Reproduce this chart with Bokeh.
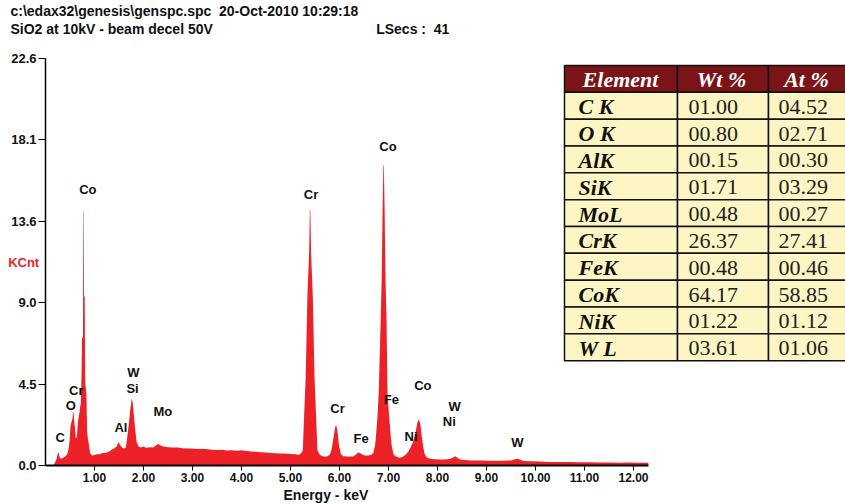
from bokeh.plotting import figure
from bokeh.models import Range1d, FixedTicker, PrintfTickFormatter, Title
from bokeh.core.properties import value
from bokeh.embed import file_html
from bokeh.resources import INLINE

# ---------------- data ----------------
energy_kev = [0.16, 0.19, 0.22, 0.25, 0.27, 0.29, 0.31, 0.35, 0.40, 0.44, 0.47, 0.49, 0.51, 0.53, 0.55, 0.565,
              0.58, 0.60, 0.62, 0.64, 0.66, 0.69, 0.71, 0.72, 0.735, 0.745, 0.765, 0.772, 0.780, 0.787, 0.80,
              0.81, 0.835, 0.85, 0.86, 0.89, 0.91, 0.95, 1.00, 1.05, 1.10, 1.15, 1.20, 1.25, 1.30, 1.35, 1.40,
              1.45, 1.49, 1.52, 1.56, 1.60, 1.64, 1.67, 1.70, 1.73, 1.76, 1.78, 1.80, 1.83, 1.86, 1.90, 1.95,
              2.00, 2.05, 2.10, 2.15, 2.20, 2.26, 2.30, 2.34, 2.40, 2.50, 2.60, 2.70, 2.80, 2.90, 3.00, 3.10,
              3.20, 3.30, 3.40, 3.50, 3.60, 3.70, 3.80, 3.90, 4.00, 4.10, 4.20, 4.30, 4.40, 4.50, 4.60, 4.70,
              4.80, 4.90, 5.00, 5.10, 5.18, 5.22, 5.25, 5.28, 5.31, 5.345, 5.38, 5.395, 5.405, 5.42, 5.455,
              5.49, 5.52, 5.55, 5.60, 5.65, 5.70, 5.75, 5.80, 5.84, 5.88, 5.91, 5.93, 5.96, 5.99, 6.03, 6.08,
              6.15, 6.20, 6.28, 6.33, 6.38, 6.42, 6.47, 6.52, 6.58, 6.64, 6.69, 6.73, 6.77, 6.80, 6.84, 6.86,
              6.88, 6.895, 6.905, 6.92, 6.94, 6.96, 6.98, 7.02, 7.06, 7.10, 7.15, 7.20, 7.25, 7.30, 7.35, 7.40,
              7.45, 7.50, 7.55, 7.59, 7.62, 7.65, 7.69, 7.73, 7.78, 7.85, 7.95, 8.05, 8.15, 8.25, 8.32, 8.36,
              8.40, 8.46, 8.55, 8.70, 8.90, 9.10, 9.30, 9.50, 9.58, 9.63, 9.68, 9.75, 9.90, 10.10, 10.30,
              10.50, 10.70, 10.90, 11.10, 11.30, 11.50, 11.70, 11.90, 12.10, 12.30]
counts_kcnt = [0.0, 0.15, 0.3, 0.65, 0.74, 0.45, 0.37, 0.42, 0.5, 0.6, 0.9, 1.3, 2.2, 2.4, 2.6, 3.05,
               2.7, 2.1, 1.5, 1.6, 2.4, 2.9, 3.3, 3.4, 5.0, 7.1, 7.1, 14.1, 14.1, 9.4, 9.4,
               4.6, 4.0, 1.8, 1.6, 1.1, 0.7, 0.55, 0.58, 0.62, 0.62, 0.68, 0.7, 0.72, 0.78, 0.88, 0.95,
               1.05, 1.3, 1.15, 1.0, 0.95, 1.0, 1.6, 2.3, 3.1, 3.73, 3.5, 2.9, 2.0, 1.3, 1.05, 1.0,
               1.05, 0.98, 1.0, 1.02, 1.0, 1.12, 1.2, 1.12, 1.05, 1.02, 1.0, 1.0, 0.96, 0.95, 0.94, 0.92,
               0.93, 0.9, 0.88, 0.86, 0.87, 0.83, 0.84, 0.82, 0.84, 0.8, 0.78, 0.76, 0.74, 0.72, 0.7, 0.68,
               0.67, 0.66, 0.64, 0.62, 0.6, 0.7, 0.83, 2.9, 4.9, 9.4, 11.8, 14.17, 14.17, 11.8, 9.4,
               4.9, 2.9, 0.83, 0.6, 0.52, 0.5, 0.5, 0.6, 0.9, 1.6, 2.1, 2.27, 1.9, 1.1, 0.62, 0.52,
               0.5, 0.5, 0.5, 0.6, 0.72, 0.7, 0.6, 0.55, 0.55, 0.58, 0.7, 1.2, 2.5, 4.0, 8.0, 10.25,
               14.3, 16.68, 16.68, 14.3, 10.25, 8.0, 4.0, 2.5, 1.2, 0.62, 0.5, 0.45, 0.45, 0.5, 0.6, 0.75,
               1.0, 1.3, 1.8, 2.4, 2.55, 2.3, 1.4, 0.7, 0.45, 0.38, 0.35, 0.33, 0.33, 0.36, 0.45, 0.52,
               0.45, 0.33, 0.3, 0.28, 0.28, 0.27, 0.26, 0.28, 0.35, 0.38, 0.33, 0.25, 0.23, 0.22, 0.2,
               0.2, 0.19, 0.18, 0.18, 0.17, 0.17, 0.15, 0.16, 0.15, 0.15]

x_ticks = [1, 2, 3, 4, 5, 6, 7, 8, 9, 10, 11, 12]
y_ticks = [0.0, 4.52, 9.04, 13.56, 18.08, 22.6]

peak_names = ["Co", "C", "O", "Cr", "Al", "W", "Si", "Mo", "Cr", "Co", "Cr", "Fe", "Fe", "Co", "Ni", "W", "Ni", "W"]
peak_label_kev = [0.865, 0.30, 0.518, 0.627, 1.539, 1.796, 1.776, 2.396, 5.42, 6.99, 5.96, 6.44, 7.06, 7.70, 7.46, 8.35, 8.24, 9.63]
peak_label_kcnt = [15.33, 1.53, 3.32, 4.16, 2.12, 5.17, 4.30, 3.01, 15.05, 17.69, 3.14, 1.48, 3.64, 4.43, 1.62, 3.27, 2.45, 1.29]

table_header = ["Element", "Wt %", "At %"]
elements = ["C K", "O K", "AlK", "SiK", "MoL", "CrK", "FeK", "CoK", "NiK", "W L"]
wt_pct = ["01.00", "00.80", "00.15", "01.71", "00.48", "26.37", "00.48", "64.17", "01.22", "03.61"]
at_pct = ["04.52", "02.71", "00.30", "03.29", "00.27", "27.41", "00.46", "58.85", "01.12", "01.06"]

header_line1 = "c:\\edax32\\genesis\\genspc.spc\u00a0\u00a020-Oct-2010 10:29:18"
header_line2 = "SiO2 at 10kV - beam decel 50V"
lsecs_text = "LSecs :\u00a0\u00a041"
y_label = "KCnt"
x_label = "Energy - keV"

# ---------------- figure ----------------
SANS = "Liberation Sans"
SERIF = "Liberation Serif"
RED = "#ec2228"
W, H = 845, 504
FRAME_L, FRAME_T, FRAME_B = 45, 57, 465

p = figure(width=W, height=H, output_backend="svg", toolbar_location=None,
           x_range=Range1d(0, (W - FRAME_L) / 49.0), y_range=Range1d(0, 22.6),
           min_border_left=FRAME_L, min_border_right=0, min_border_top=FRAME_T,
           min_border_bottom=H - FRAME_B)
p.outline_line_color = None
p.xgrid.visible = False
p.ygrid.visible = False
p.background_fill_color = "white"

# pixel helper ranges (screen coordinates of the page) for the table
p.extra_x_ranges = {"px": Range1d(FRAME_L, W)}
p.extra_y_ranges = {"py": Range1d(FRAME_B, FRAME_T)}

# spectrum
p.varea(x=energy_kev, y1=0, y2=counts_kcnt, fill_color=RED)

# axes
xa = p.xaxis[0]
xa.ticker = FixedTicker(ticks=x_ticks)
xa.formatter = PrintfTickFormatter(format="%.2f")
xa.bounds = (0, 12.3)
xa.axis_line_width = 2
xa.major_tick_out = 5
xa.major_tick_in = 0
xa.minor_tick_line_color = None
xa.major_label_standoff = 2
xa.major_label_text_font = SANS
xa.major_label_text_font_style = "bold"
xa.major_label_text_font_size = "12px"
xa.major_label_text_color = "#111111"

ya = p.yaxis[0]
ya.ticker = FixedTicker(ticks=y_ticks)
ya.formatter = PrintfTickFormatter(format="%.1f")
ya.axis_line_width = 1.5
ya.major_tick_out = 7
ya.major_tick_in = 0
ya.minor_tick_line_color = None
ya.major_label_standoff = 2
ya.major_label_text_font = SANS
ya.major_label_text_font_style = "bold"
ya.major_label_text_font_size = "13px"
ya.major_label_text_color = "#111111"
ya.axis_label = y_label
ya.axis_label_orientation = "horizontal"
ya.axis_label_standoff = -31
ya.axis_label_text_font = SANS
ya.axis_label_text_font_style = "bold"
ya.axis_label_text_font_size = "13px"
ya.axis_label_text_color = RED

# x axis title below the axis
p.add_layout(Title(text=x_label, align="left", offset=283 - FRAME_L, standoff=0,
                   text_font=SANS, text_font_style="bold", text_font_size="14px",
                   text_color="#111111"), "below")

# header lines above the plot (first added sits next to the frame)
p.add_layout(Title(text="\u00a0", align="left", standoff=19, text_font_size="1px",
                   text_color="white"), "above")
gap = "\u00a0" * 42
p.add_layout(Title(text=header_line2 + gap + lsecs_text, align="left", offset=10 - FRAME_L, standoff=0,
                   text_font=SANS, text_font_style="bold", text_font_size="14px",
                   text_color="#111111"), "above")
p.add_layout(Title(text=header_line1, align="left", offset=10 - FRAME_L, standoff=0,
                   text_font=SANS, text_font_style="bold", text_font_size="14px",
                   text_color="#111111"), "above")

# peak labels
p.text(x=peak_label_kev, y=peak_label_kcnt, text=peak_names, text_align="center", text_baseline="middle",
       text_font=value(SANS), text_font_style="bold", text_font_size="13px", text_color="#111111")

# table
ROW_TOP = 64.0
ROW_H = 26.9
col_edges = [564, 677, 768, 850]
n_rows = len(elements) + 1
lefts, rights, tops, bottoms, fills = [], [], [], [], []
for r in range(n_rows):
    for c in range(3):
        lefts.append(col_edges[c])
        rights.append(col_edges[c + 1])
        tops.append(ROW_TOP + r * ROW_H)
        bottoms.append(ROW_TOP + (r + 1) * ROW_H)
        fills.append("#7b1416" if r == 0 else "#fdf6c4")
p.quad(left=lefts, right=rights, top=tops, bottom=bottoms, fill_color=fills,
       line_color="#111111", line_width=1.5, x_range_name="px", y_range_name="py")

hdr_x = [620, 721, 806]
p.text(x=hdr_x, y=[ROW_TOP + ROW_H / 2 + 1] * 3, text=table_header, text_align="center", text_baseline="middle",
       text_font=value(SERIF), text_font_style="bold italic", text_font_size="22px", text_color="white",
       x_range_name="px", y_range_name="py")
row_y = [ROW_TOP + (i + 1.5) * ROW_H + 1 for i in range(len(elements))]
p.text(x=[578] * len(elements), y=row_y, text=elements, text_align="left", text_baseline="middle",
       text_font=value(SERIF), text_font_style="bold italic", text_font_size="22px", text_color="#111111",
       x_range_name="px", y_range_name="py")
p.text(x=[688] * len(elements), y=row_y, text=wt_pct, text_align="left", text_baseline="middle",
       text_font=value(SERIF), text_font_size="22px", text_color="#222222",
       x_range_name="px", y_range_name="py")
p.text(x=[778] * len(elements), y=row_y, text=at_pct, text_align="left", text_baseline="middle",
       text_font=value(SERIF), text_font_size="22px", text_color="#222222",
       x_range_name="px", y_range_name="py")

open("out.html", "w").write(file_html(p, INLINE))
